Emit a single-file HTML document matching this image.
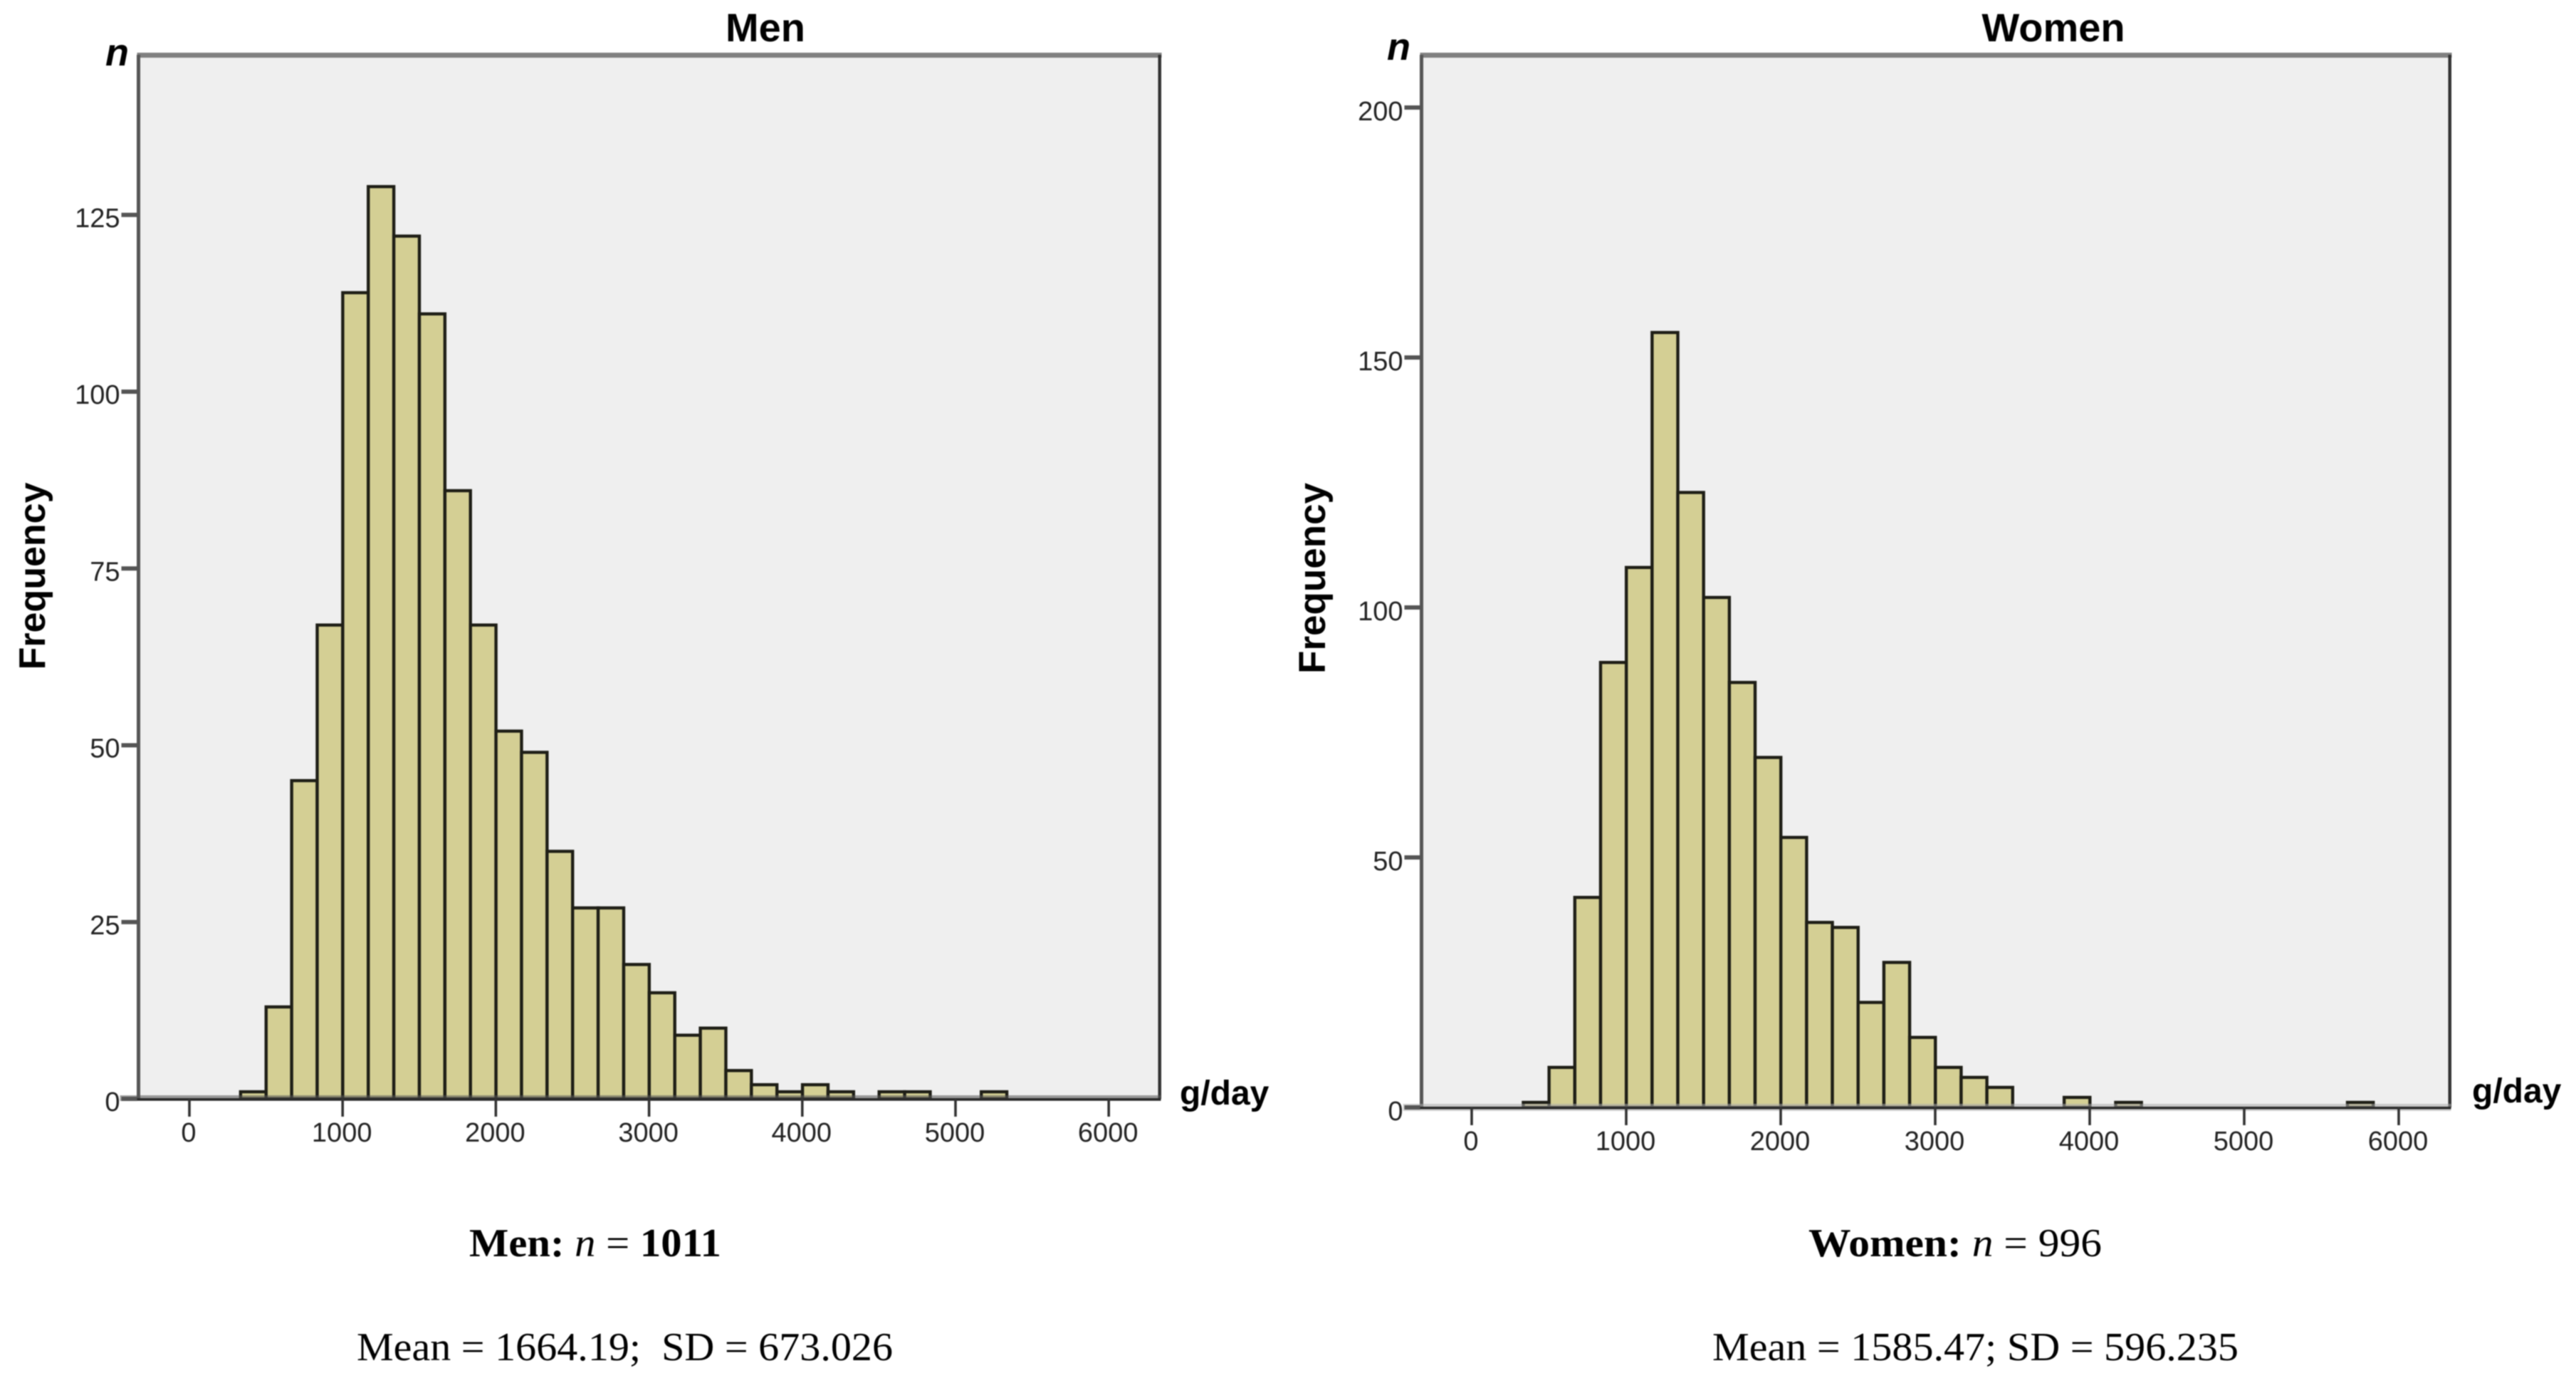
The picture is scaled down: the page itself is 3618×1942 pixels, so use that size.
<!DOCTYPE html>
<html lang="en">
<head>
<meta charset="utf-8">
<title>Histograms of g/day for men and women</title>
<style>
  html, body { margin: 0; padding: 0; background: #fff; }
  body { width: 3618px; height: 1942px; overflow: hidden; }
  svg { display: block; filter: blur(0.8px); }
  .sans { font-family: "Liberation Sans", sans-serif; }
  .serif { font-family: "Liberation Serif", serif; }
  .tick { font-family: "Liberation Sans", sans-serif; font-size: 38px; fill: #222; }
  .bold { font-family: "Liberation Sans", sans-serif; font-weight: 700; fill: #000; }
</style>
</head>
<body>
<svg id="fig" xmlns="http://www.w3.org/2000/svg" width="3618" height="1942" viewBox="0 0 3618 1942">
  <rect x="0" y="0" width="3618" height="1942" fill="#ffffff"/>
  <g id="men-panel"></g>
  <g id="women-panel"></g>

  <text class="bold" x="1075" y="58" font-size="56" text-anchor="middle">Men</text>
  <text class="bold" x="2884" y="58" font-size="56" text-anchor="middle">Women</text>

  <text class="bold" x="148" y="92" font-size="54" font-style="italic">n</text>
  <text class="bold" x="1948" y="84" font-size="54" font-style="italic">n</text>

  <text class="bold" x="63" y="809" font-size="52" text-anchor="middle" transform="rotate(-90 63 809)">Frequency</text>
  <text class="bold" x="1861" y="812" font-size="53" text-anchor="middle" transform="rotate(-90 1861 812)">Frequency</text>

  <text class="bold" x="1657" y="1551" font-size="48">g/day</text>
  <text class="bold" x="3472" y="1548" font-size="48">g/day</text>

  <text class="serif" x="659" y="1764" font-size="56" fill="#000" textLength="354" lengthAdjust="spacingAndGlyphs"><tspan font-weight="700">Men:</tspan> <tspan font-style="italic">n</tspan> = <tspan font-weight="700">1011</tspan></text>
  <text class="serif" x="2540" y="1764" font-size="56" fill="#000" textLength="412" lengthAdjust="spacingAndGlyphs"><tspan font-weight="700">Women:</tspan> <tspan font-style="italic">n</tspan> = 996</text>
  <text class="serif" x="501" y="1910" font-size="56" fill="#000" textLength="753" lengthAdjust="spacingAndGlyphs" xml:space="preserve">Mean = 1664.19;  SD = 673.026</text>
  <text class="serif" x="2405" y="1910" font-size="56" fill="#000" textLength="739" lengthAdjust="spacingAndGlyphs">Mean = 1585.47; SD = 596.235</text>
</svg>

<script>
// Histogram data
const menCounts = [1, 13, 45, 67, 114, 129, 122, 111, 86, 67, 52, 49, 35, 27, 27, 19, 15, 9, 10, 4, 2, 1, 2, 1, 0, 1, 1, 0, 0, 1];
const womenCounts = [1, 8, 42, 89, 108, 155, 123, 102, 85, 70, 54, 37, 36, 21, 29, 14, 8, 6, 4, 0, 0, 2, 0, 1, 0, 0, 0, 0, 0, 0, 0, 0, 1];
const xTickValues = [0, 1000, 2000, 3000, 4000, 5000, 6000];
const menYTickValues = [0, 25, 50, 75, 100, 125];
const womenYTickValues = [0, 50, 100, 150, 200];
const binStart = 334;
const binWidth = 166.7;

const SVG_NS = 'http://www.w3.org/2000/svg';

function linearAxis(originPx, pxPerUnit) {
  return function (value) { return originPx + value * pxPerUnit; };
}

function addRect(parent, x, y, w, h, fill) {
  const el = document.createElementNS(SVG_NS, 'rect');
  el.setAttribute('x', x);
  el.setAttribute('y', y);
  el.setAttribute('width', w);
  el.setAttribute('height', h);
  el.setAttribute('fill', fill);
  parent.appendChild(el);
  return el;
}

function addLabel(parent, x, y, anchor, content) {
  const el = document.createElementNS(SVG_NS, 'text');
  el.setAttribute('class', 'tick');
  el.setAttribute('x', x);
  el.setAttribute('y', y);
  el.setAttribute('text-anchor', anchor);
  el.textContent = content;
  parent.appendChild(el);
  return el;
}

function drawPanel(parent, counts, yTickValues, xAxis, yAxis, box) {
  const bg = addRect(parent, box.left, box.top, box.right - box.left, box.bottom - box.top, '#efefef');
  
  

  counts.forEach(function (count, i) {
    if (count === 0) return;
    const x0 = xAxis(binStart + i * binWidth);
    const x1 = xAxis(binStart + (i + 1) * binWidth);
    const bar = addRect(parent, x0, yAxis(count), x1 - x0, yAxis(0) - yAxis(count), '#d4cf94');
    bar.setAttribute('stroke', '#1e1e16');
    bar.setAttribute('stroke-width', '4.4');
    
    
  });

  const frameTop = addRect(parent, box.left - 2, box.top - 3, box.right - box.left + 5, 7, '#808080');
  
  

  const frameLeft = addRect(parent, box.left - 2.5, box.top, 5, box.bottom - box.top, '#555555');
  
  

  const frameRight = addRect(parent, box.right - 2, box.top, 4.5, box.bottom - box.top, '#333333');
  
  

  const frameShade = addRect(parent, box.left - 26, box.bottom - box.shadeAbove, box.right - box.left + 28, box.shadeAbove + box.shadeBelow, box.shadeColor);
  frameShade.setAttribute('fill-opacity', '0.55');
  
  

  const frameBottom = addRect(parent, box.left - 24, box.bottom - 1, box.right - box.left + 26, 3.5, '#2a2a2a');
  
  

  yTickValues.forEach(function (value) {
    const y = yAxis(value);
    const mark = addRect(parent, box.left - 24, y - 3, 22, 6, '#555555');
    
    
    const label = addLabel(parent, box.left - 26, y + box.yLabelDrop, 'end', String(value));
    
    
  });

  xTickValues.forEach(function (value) {
    const x = xAxis(value);
    const mark = addRect(parent, x - 1.8, box.bottom, 3.6, 25, '#333333');
    
    
    const label = addLabel(parent, x - 1, box.bottom + box.xLabelDrop, 'middle', String(value));
    
    
  });
}

drawPanel(
  document.getElementById('men-panel'),
  menCounts,
  menYTickValues,
  linearAxis(266, 0.2152),
  linearAxis(1543, -9.93),
  { left: 194.5, right: 1628.5, top: 77, bottom: 1543, yLabelDrop: 17, xLabelDrop: 60, shadeAbove: 5, shadeBelow: 3, shadeColor: '#555555' }
);

drawPanel(
  document.getElementById('women-panel'),
  womenCounts,
  womenYTickValues,
  linearAxis(2067, 0.217),
  linearAxis(1555, -7.02),
  { left: 1996.5, right: 3440.5, top: 77, bottom: 1555, yLabelDrop: 18, xLabelDrop: 60, shadeAbove: 5, shadeBelow: 5, shadeColor: '#aaaaaa' }
);
</script>
</body>
</html>
